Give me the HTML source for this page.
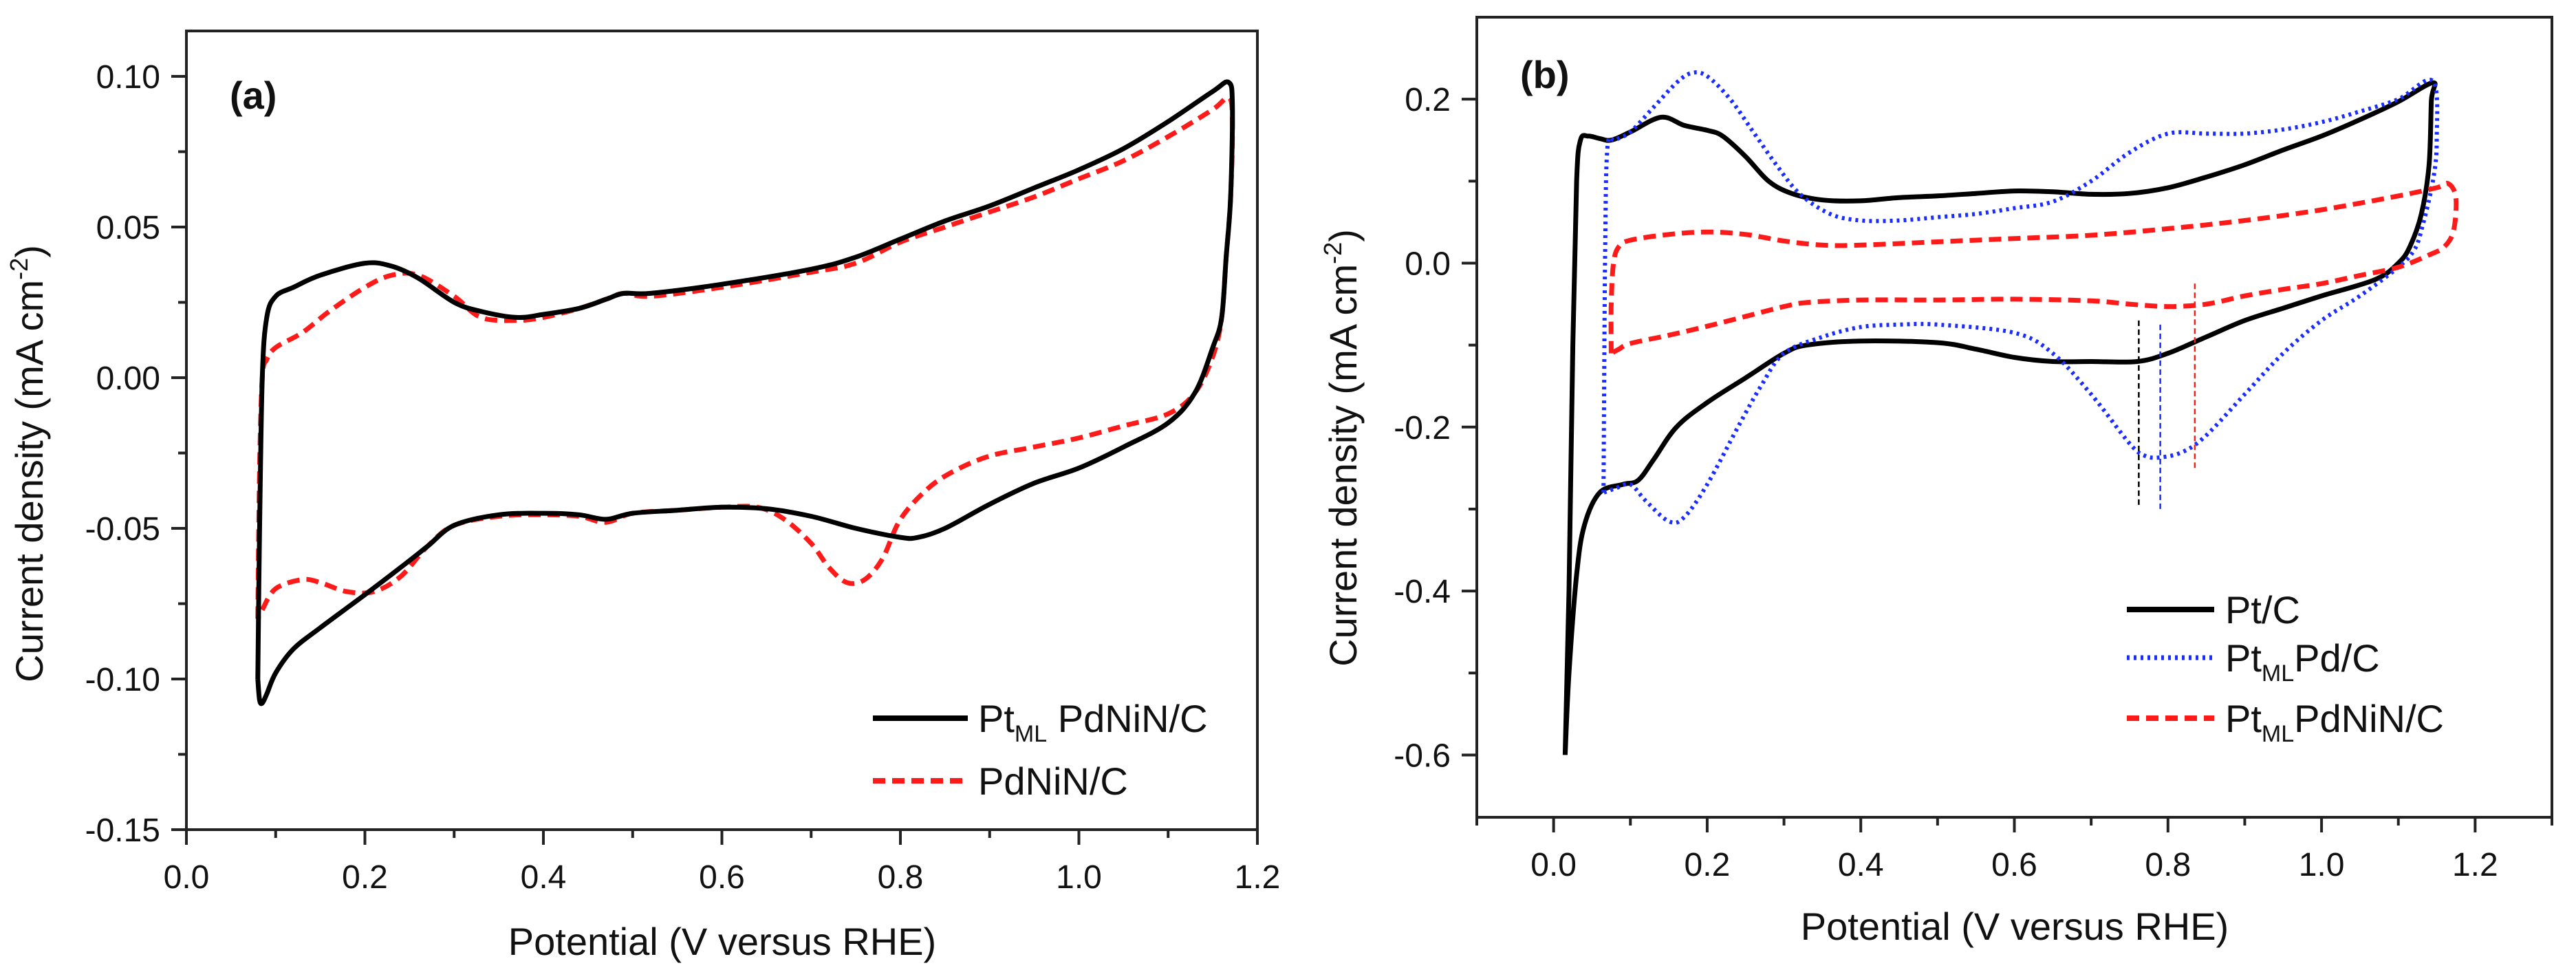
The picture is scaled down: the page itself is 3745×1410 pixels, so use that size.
<!DOCTYPE html>
<html><head><meta charset="utf-8"><style>
html,body{margin:0;padding:0;background:#fff;}
svg{display:block;font-family:"Liberation Sans",Arial,sans-serif;}
</style></head><body>
<svg id="fig" width="3745" height="1410" viewBox="0 0 3745 1410" xmlns="http://www.w3.org/2000/svg"></svg>
<script>
// ---------- Panel (a) data ----------
const aXTicks = [0.0,0.2,0.4,0.6,0.8,1.0,1.2];
const aYTicks = [0.10,0.05,0.00,-0.05,-0.10,-0.15];
const aBlackX = [0.08,0.082,0.085,0.09,0.1,0.12,0.15,0.2,0.23,0.26,0.3,0.33,0.37,0.4,0.44,0.47,0.49,0.52,0.6,0.7,0.75,0.8,0.85,0.9,0.95,1.0,1.05,1.1,1.15,1.168,1.172,1.17,1.165,1.16,1.15,1.13,1.1,1.05,1.0,0.95,0.9,0.85,0.82,0.8,0.75,0.7,0.65,0.6,0.55,0.5,0.47,0.44,0.4,0.35,0.3,0.27,0.24,0.2,0.15,0.12,0.1,0.09,0.085,0.082,0.08];
const aBlackY = [-0.10,-0.05,0.0,0.02,0.027,0.03,0.034,0.038,0.037,0.033,0.025,0.022,0.02,0.021,0.023,0.026,0.028,0.028,0.031,0.036,0.04,0.046,0.052,0.057,0.063,0.069,0.076,0.085,0.095,0.098,0.09,0.06,0.04,0.02,0.01,-0.005,-0.015,-0.023,-0.03,-0.035,-0.042,-0.05,-0.053,-0.053,-0.05,-0.046,-0.0435,-0.043,-0.044,-0.045,-0.047,-0.0455,-0.045,-0.0455,-0.049,-0.056,-0.063,-0.072,-0.083,-0.09,-0.098,-0.105,-0.108,-0.107,-0.10];
const aRedX = [0.08,0.082,0.085,0.09,0.1,0.13,0.16,0.2,0.23,0.26,0.3,0.33,0.37,0.4,0.44,0.47,0.49,0.52,0.6,0.7,0.75,0.8,0.85,0.9,0.95,1.0,1.05,1.1,1.15,1.168,1.172,1.17,1.165,1.16,1.15,1.13,1.1,1.05,1.0,0.95,0.9,0.86,0.83,0.8,0.78,0.76,0.74,0.72,0.7,0.67,0.64,0.6,0.55,0.5,0.47,0.44,0.4,0.35,0.3,0.27,0.24,0.21,0.18,0.15,0.13,0.1,0.085,0.08];
const aRedY = [-0.08,-0.03,0.0,0.006,0.01,0.015,0.022,0.03,0.034,0.034,0.027,0.02,0.019,0.02,0.023,0.026,0.028,0.027,0.03,0.035,0.038,0.045,0.05,0.055,0.06,0.066,0.072,0.08,0.089,0.093,0.085,0.06,0.04,0.02,0.007,-0.005,-0.012,-0.016,-0.02,-0.023,-0.026,-0.031,-0.037,-0.047,-0.06,-0.067,-0.068,-0.063,-0.055,-0.047,-0.043,-0.043,-0.044,-0.045,-0.048,-0.046,-0.0455,-0.046,-0.049,-0.056,-0.066,-0.071,-0.071,-0.068,-0.067,-0.07,-0.077,-0.08];

// ---------- Panel (b) data ----------
const bXTicks = [0.0,0.2,0.4,0.6,0.8,1.0,1.2];
const bYTicks = [0.2,0.0,-0.2,-0.4,-0.6];
const bBlackX = [0.015,0.02,0.025,0.03,0.035,0.045,0.06,0.075,0.1,0.14,0.17,0.2,0.22,0.25,0.28,0.31,0.35,0.4,0.45,0.5,0.55,0.6,0.65,0.7,0.75,0.8,0.85,0.9,0.95,1.0,1.05,1.1,1.145,1.143,1.14,1.13,1.115,1.1,1.07,1.0,0.95,0.9,0.85,0.8,0.76,0.7,0.65,0.6,0.55,0.5,0.4,0.33,0.3,0.25,0.2,0.16,0.13,0.11,0.09,0.06,0.04,0.03,0.02,0.015];
const bBlackY = [-0.6,-0.4,-0.1,0.1,0.15,0.155,0.152,0.15,0.16,0.178,0.168,0.162,0.155,0.13,0.1,0.085,0.077,0.076,0.08,0.082,0.085,0.088,0.087,0.084,0.085,0.092,0.105,0.12,0.138,0.155,0.175,0.197,0.22,0.198,0.12,0.06,0.02,0.0,-0.02,-0.04,-0.055,-0.07,-0.09,-0.11,-0.12,-0.12,-0.12,-0.115,-0.105,-0.097,-0.095,-0.1,-0.11,-0.14,-0.17,-0.2,-0.24,-0.265,-0.27,-0.28,-0.32,-0.38,-0.5,-0.6];
const bBlueX = [0.065,0.067,0.07,0.08,0.1,0.13,0.16,0.18,0.2,0.23,0.26,0.29,0.32,0.36,0.4,0.45,0.5,0.55,0.6,0.65,0.7,0.75,0.8,0.85,0.9,0.95,1.0,1.05,1.1,1.145,1.15,1.145,1.13,1.12,1.1,1.05,1.0,0.95,0.9,0.85,0.82,0.79,0.77,0.75,0.7,0.65,0.6,0.5,0.45,0.4,0.35,0.3,0.27,0.24,0.2,0.17,0.15,0.12,0.1,0.08,0.065];
const bBlueY = [-0.28,0.0,0.14,0.15,0.16,0.19,0.22,0.232,0.228,0.2,0.16,0.12,0.085,0.06,0.052,0.052,0.056,0.06,0.067,0.075,0.1,0.135,0.158,0.158,0.158,0.163,0.172,0.185,0.2,0.222,0.15,0.1,0.04,0.015,-0.005,-0.04,-0.07,-0.11,-0.16,-0.21,-0.23,-0.237,-0.235,-0.22,-0.16,-0.11,-0.085,-0.075,-0.075,-0.078,-0.09,-0.11,-0.15,-0.2,-0.27,-0.31,-0.315,-0.29,-0.27,-0.275,-0.28];
const bRedX = [0.075,0.075,0.078,0.085,0.1,0.15,0.2,0.25,0.3,0.35,0.4,0.5,0.6,0.7,0.8,0.9,1.0,1.1,1.15,1.165,1.175,1.172,1.16,1.14,1.1,1.05,1.0,0.95,0.9,0.85,0.8,0.75,0.7,0.6,0.5,0.4,0.33,0.3,0.25,0.2,0.15,0.1,0.085,0.075];
const bRedY = [-0.11,-0.05,0.0,0.02,0.028,0.035,0.038,0.035,0.027,0.022,0.022,0.026,0.03,0.034,0.042,0.052,0.065,0.082,0.092,0.097,0.08,0.04,0.02,0.01,-0.005,-0.015,-0.025,-0.032,-0.04,-0.05,-0.053,-0.05,-0.046,-0.044,-0.045,-0.045,-0.048,-0.053,-0.065,-0.077,-0.088,-0.098,-0.105,-0.11];
const bMarkX = [0.762,0.79,0.835];
const bMarkTop = [-0.07,-0.075,-0.025];
const bMarkBot = [-0.295,-0.3,-0.25];

const NS = "http://www.w3.org/2000/svg";
const svg = document.getElementById('fig');
function mk(tag, attrs, parent){const e=document.createElementNS(NS,tag);for(const k in attrs)e.setAttribute(k,attrs[k]);(parent||svg).appendChild(e);return e;}

const axA = {x0:271,x1:1828,y0:45,y1:1206,xmin:0,xmax:1.2,ymin:-0.15,ymax:0.10+66/4380};
const axB = {x0:2147,x1:3710,y0:25,y1:1188,xmin:-0.1,xmax:1.3,ymin:-0.676,ymax:0.3};
function sx(ax,v){return ax.x0+(v-ax.xmin)/(ax.xmax-ax.xmin)*(ax.x1-ax.x0);}
function sy(ax,v){return ax.y1-(v-ax.ymin)/(ax.ymax-ax.ymin)*(ax.y1-ax.y0);}
function smoothPath(ax,xs,ys){
  const p=xs.map((x,i)=>[sx(ax,x),sy(ax,ys[i])]);
  let d=`M${p[0][0].toFixed(1)},${p[0][1].toFixed(1)}`;
  for(let i=0;i<p.length-1;i++){
    const p0=p[Math.max(0,i-1)],p1=p[i],p2=p[i+1],p3=p[Math.min(p.length-1,i+2)];
    const c1=[p1[0]+(p2[0]-p0[0])/6,p1[1]+(p2[1]-p0[1])/6];
    const c2=[p2[0]-(p3[0]-p1[0])/6,p2[1]-(p3[1]-p1[1])/6];
    d+=` C${c1[0].toFixed(1)},${c1[1].toFixed(1)} ${c2[0].toFixed(1)},${c2[1].toFixed(1)} ${p2[0].toFixed(1)},${p2[1].toFixed(1)}`;
  }
  return d;
}

function drawAxes(ax, xt, yt, ydec, minorX, minorY, pfx){
  const g=mk('g',{});
  
  
  const fr=mk('rect',{x:ax.x0,y:ax.y0,width:ax.x1-ax.x0,height:ax.y1-ax.y0,fill:'none',stroke:'#222','stroke-width':4},g);
  
  
  xt.forEach(v=>{
    const x=sx(ax,v);
    mk('line',{x1:x,y1:ax.y1,x2:x,y2:ax.y1+22,stroke:'#222','stroke-width':4},g);
    const t=mk('text',{x:x,y:ax.y1+85,'font-size':48,'text-anchor':'middle',fill:'#111'},g);
    t.textContent=v.toFixed(1);
    
    
  });
  minorX.forEach(v=>{const x=sx(ax,v);mk('line',{x1:x,y1:ax.y1,x2:x,y2:ax.y1+12,stroke:'#222','stroke-width':4},g);});
  yt.forEach(v=>{
    const y=sy(ax,v);
    mk('line',{x1:ax.x0-22,y1:y,x2:ax.x0,y2:y,stroke:'#222','stroke-width':4},g);
    const t=mk('text',{x:ax.x0-38,y:y+17,'font-size':48,'text-anchor':'end',fill:'#111'},g);
    t.textContent=v.toFixed(ydec);
    
    
  });
  minorY.forEach(v=>{const y=sy(ax,v);mk('line',{x1:ax.x0-12,y1:y,x2:ax.x0,y2:y,stroke:'#222','stroke-width':4},g);});
}
drawAxes(axA,aXTicks,aYTicks,2,[0.1,0.3,0.5,0.7,0.9,1.1],[0.075,0.025,-0.025,-0.075,-0.125],'panel-a');
drawAxes(axB,bXTicks,bYTicks,1,[-0.1,0.1,0.3,0.5,0.7,0.9,1.1,1.3],[0.1,-0.1,-0.3,-0.5],'panel-b');

function series(ax,xs,ys,style,name){
  const p=mk('path',Object.assign({d:smoothPath(ax,xs,ys),fill:'none','stroke-linejoin':'round'},style));
  
  
}
series(axA,aRedX,aRedY,{stroke:'#ff1a1a','stroke-width':7,'stroke-dasharray':'18 10'},'panel-a-pdninc-curve');
series(axA,aBlackX,aBlackY,{stroke:'#000','stroke-width':7},'panel-a-ptml-pdninc-curve');
series(axB,bBlackX,bBlackY,{stroke:'#000','stroke-width':7},'panel-b-ptc-curve');
series(axB,bBlueX,bBlueY,{stroke:'#1a2cff','stroke-width':6,'stroke-dasharray':'4 6'},'panel-b-ptml-pdc-curve');
series(axB,bRedX,bRedY,{stroke:'#ff1a1a','stroke-width':7,'stroke-dasharray':'18 10'},'panel-b-ptml-pdninc-curve');
const markColors=['#000','#1a2cff','#ff1a1a'];
bMarkX.forEach((v,i)=>{
  const l=mk('line',{x1:sx(axB,v),x2:sx(axB,v),y1:sy(axB,bMarkTop[i]),y2:sy(axB,bMarkBot[i]),stroke:markColors[i],'stroke-width':2.5,'stroke-dasharray':'8 5'});
  
  
});
</script>
<svg width="3745" height="1410" style="position:absolute;left:0;top:0" xmlns="http://www.w3.org/2000/svg">
 <g font-family="Liberation Sans, Arial, sans-serif" fill="#111">
  <text x="334" y="158" font-size="56" font-weight="bold">(a)</text>
  <text x="2210" y="128" font-size="56" font-weight="bold">(b)</text>
  <text x="1050" y="1388" font-size="56" text-anchor="middle">Potential (V versus RHE)</text>
  <text x="2929" y="1366" font-size="56" text-anchor="middle">Potential (V versus RHE)</text>
  <text transform="translate(62,674) rotate(-90)" font-size="56" text-anchor="middle">Current density (mA cm<tspan dy="-22" font-size="36">-2</tspan><tspan dy="22">)</tspan></text>
  <text transform="translate(1972,651) rotate(-90)" font-size="56" text-anchor="middle">Current density (mA cm<tspan dy="-22" font-size="36">-2</tspan><tspan dy="22">)</tspan></text>
  <g>
   <line x1="1269" y1="1044" x2="1407" y2="1044" stroke="#000" stroke-width="8"/>
   <text x="1422" y="1064" font-size="56">Pt<tspan dy="14" font-size="34">ML</tspan><tspan dy="-14"> PdNiN/C</tspan></text>
   <line x1="1269" y1="1135" x2="1407" y2="1135" stroke="#ff1a1a" stroke-width="8" stroke-dasharray="18 10"/>
   <text x="1422" y="1155" font-size="56">PdNiN/C</text>
  </g>
  <g>
   <line x1="3092" y1="886" x2="3219" y2="886" stroke="#000" stroke-width="8"/>
   <text x="3235" y="906" font-size="56">Pt/C</text>
   <line x1="3092" y1="956" x2="3219" y2="956" stroke="#1a2cff" stroke-width="7" stroke-dasharray="4 6"/>
   <text x="3235" y="976" font-size="56">Pt<tspan dy="14" font-size="34">ML</tspan><tspan dy="-14">Pd/C</tspan></text>
   <line x1="3092" y1="1044" x2="3219" y2="1044" stroke="#ff1a1a" stroke-width="8" stroke-dasharray="18 10"/>
   <text x="3235" y="1064" font-size="56">Pt<tspan dy="14" font-size="34">ML</tspan><tspan dy="-14">PdNiN/C</tspan></text>
  </g>
 </g>
</svg>
</body></html>
